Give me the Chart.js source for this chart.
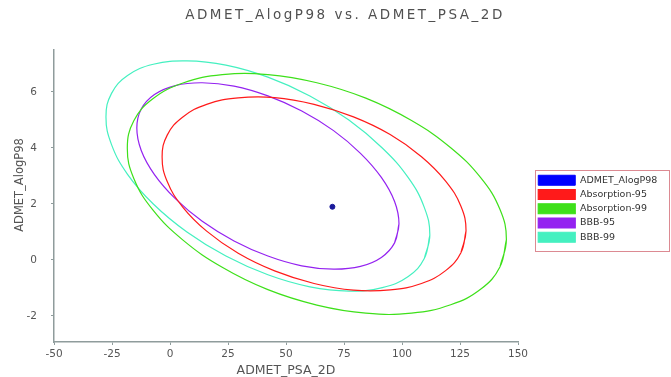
<!DOCTYPE html>
<html>
<head>
<meta charset="utf-8">
<title>ADMET_AlogP98 vs. ADMET_PSA_2D</title>
<script src="https://cdn.jsdelivr.net/npm/chart.js@4.4.1/dist/chart.umd.min.js"></script>
<style>
  html, body { margin: 0; padding: 0; background: #fff; }
</style>
</head>
<body>
<canvas id="chart" width="671" height="377"></canvas>
<script>
/* ── ADMET plot: AlogP98 vs PSA_2D with absorption / BBB ellipses ── */

// ── Data ────────────────────────────────────────────────────────────

const chartTitle = 'ADMET_AlogP98 vs. ADMET_PSA_2D';
const xTitle = 'ADMET_PSA_2D';
const yTitle = 'ADMET_AlogP98';

const xTicks = [-50, -25, 0, 25, 50, 75, 100, 125, 150];
const yTicks = [-2, 0, 2, 4, 6];

// the one compound
const compoundX = [70];
const compoundY = [1.9];

// outlines, going round each ellipse
const abs95X = [127.6, 125.4, 118.8, 108.4, 94.9, 79.1, 62.1, 45.1, 29.4, 15.8, 5.4, -1.2,
                -3.4, -1.2, 5.4, 15.8, 29.4, 45.1, 62.1, 79.1, 94.9, 108.4, 118.8, 125.4];
const abs95Y = [1.04, 0.26, -0.38, -0.84, -1.07, -1.08, -0.84, -0.39, 0.24, 1.03, 1.90, 2.80,
                3.68, 4.46, 5.10, 5.56, 5.79, 5.80, 5.56, 5.11, 4.48, 3.69, 2.82, 1.92];

const abs99X = [145.0, 142.2, 134.0, 121.0, 104.1, 84.4, 63.3, 42.2, 22.5, 5.6, -7.4, -15.6,
                -18.4, -15.6, -7.4, 5.6, 22.5, 42.2, 63.3, 84.4, 104.1, 121.0, 134.0, 142.2];
const abs99Y = [0.73, -0.25, -1.04, -1.60, -1.90, -1.90, -1.61, -1.06, -0.26, 0.71, 1.79, 2.91,
                3.99, 4.97, 5.76, 6.32, 6.62, 6.62, 6.33, 5.78, 4.98, 4.01, 2.93, 1.81];

const bbb95X = [98.7, 96.8, 91.1, 82.1, 70.5, 56.8, 42.2, 27.6, 13.9, 2.3, -6.7, -12.4,
                -14.3, -12.4, -6.7, 2.3, 13.9, 27.6, 42.2, 56.8, 70.5, 82.1, 91.1, 96.8];
const bbb95Y = [1.29, 0.61, 0.09, -0.23, -0.33, -0.21, 0.14, 0.68, 1.38, 2.19, 3.05, 3.91,
                4.71, 5.39, 5.91, 6.23, 6.33, 6.21, 5.86, 5.32, 4.62, 3.81, 2.95, 2.09];

const bbb99X = [112.0, 109.6, 102.7, 91.5, 77.1, 60.3, 42.2, 24.1, 7.3, -7.2, -18.3, -25.2,
                -27.6, -25.2, -18.3, -7.2, 7.3, 24.1, 42.2, 60.3, 77.1, 91.5, 102.7, 109.6];
const bbb99Y = [0.89, 0.05, -0.59, -0.99, -1.11, -0.96, -0.53, 0.14, 1.00, 2.00, 3.06, 4.12,
                5.11, 5.95, 6.59, 6.99, 7.11, 6.96, 6.53, 5.86, 5.00, 4.00, 2.94, 1.88];

// ── Helpers ─────────────────────────────────────────────────────────

const FONT = '"DejaVu Sans", Verdana, sans-serif';
const AXIS = '#8f9c9c';
const TEXT = '#555';

const toPoints = (xs, ys) => xs.map((x, i) => ({ x, y: ys[i] }));

// repeat the first two points so the spline closes without a kink
const closedLoop = (xs, ys) => {
  const p = toPoints(xs, ys);
  return [...p, p[0], p[1]];
};

const ellipse = (label, xs, ys, color) => ({
  label,
  data: closedLoop(xs, ys),
  borderColor: color,
  backgroundColor: color,
  borderWidth: 1.2,
  pointRadius: 0,
  pointHoverRadius: 0,
  tension: 0.42,
  fill: false,
});

// legend frame, chart title and the y title
const decor = {
  id: 'decor',
  afterLayout(chart) {
    const lg = chart.legend;
    lg.left = 534; lg.top = 171;
    lg.right = lg.left + lg.width;
    lg.bottom = lg.top + lg.height;
  },
  afterDraw(chart) {
    const { ctx, legend } = chart;
    ctx.save();
    ctx.strokeStyle = '#dc8a92';
    ctx.lineWidth = 1;
    ctx.strokeRect(legend.left + 1.5, legend.top - 0.5, chart.width - legend.left - 3, 81);

    ctx.fillStyle = '#505050';
    ctx.textAlign = 'center';
    ctx.textBaseline = 'middle';
    ctx.font = '13.5px ' + FONT;
    ctx.letterSpacing = '2.5px';
    ctx.fillText(chartTitle, 345, 15);

    ctx.letterSpacing = '0px';
    ctx.fillStyle = TEXT;
    ctx.font = '11.5px ' + FONT;
    ctx.translate(20, 185);
    ctx.rotate(-Math.PI / 2);
    ctx.fillText(yTitle, 0, 0);
    ctx.restore();
  },
};

// ── Chart ───────────────────────────────────────────────────────────

const tickFont = { family: FONT, size: 10.5 };

new Chart(document.getElementById('chart'), {
  type: 'line',
  data: {
    datasets: [
      {
        label: 'ADMET_AlogP98',
        data: toPoints(compoundX, compoundY),
        showLine: false,
        backgroundColor: '#0000ff',
        borderColor: '#0000ff',
        borderWidth: 1,
        pointBackgroundColor: '#1a1a9a',
        pointBorderColor: '#1a1a9a',
        pointRadius: 2.5,
      },
      ellipse('Absorption-95', abs95X, abs95Y, '#ff1a1a'),
      ellipse('Absorption-99', abs99X, abs99Y, '#3ee01a'),
      ellipse('BBB-95', bbb95X, bbb95Y, '#9422f0'),
      ellipse('BBB-99', bbb99X, bbb99Y, '#44f0c0'),
    ],
  },
  options: {
    responsive: false,
    animation: false,
    layout: { padding: { top: 50, right: 153, bottom: 0, left: 0 } },
    scales: {
      x: {
        type: 'linear',
        min: -50,
        max: 150,
        afterBuildTicks: s => { s.ticks = xTicks.map(v => ({ value: v })); },
        afterFit: s => { s.height = 35; },
        grid: { drawOnChartArea: false, tickLength: 3, tickColor: AXIS },
        border: { color: AXIS, width: 1.5 },
        ticks: { font: tickFont, color: TEXT, padding: 3, maxRotation: 0, autoSkip: false },
        title: {
          display: true,
          text: xTitle,
          color: TEXT,
          padding: 0,
          font: { family: FONT, size: 12.5, lineHeight: 1 },
        },
      },
      y: {
        type: 'linear',
        min: -2.93,
        max: 7.5,
        afterBuildTicks: s => { s.ticks = yTicks.map(v => ({ value: v })); },
        afterFit: s => { s.width = 54; },
        grid: { drawOnChartArea: false, tickLength: 3, tickColor: AXIS },
        border: { color: AXIS, width: 1.5 },
        ticks: { font: tickFont, color: TEXT, padding: 14, autoSkip: false },
      },
    },
    plugins: {
      title: { display: false },
      tooltip: { enabled: false },
      legend: {
        position: 'chartArea',
        align: 'start',
        labels: {
          boxWidth: 37,
          boxHeight: 10,
          padding: 4.25,
          color: '#333',
          font: { family: FONT, size: 9.5 },
        },
      },
    },
  },
  plugins: [decor],
});
</script>
</body>
</html>
